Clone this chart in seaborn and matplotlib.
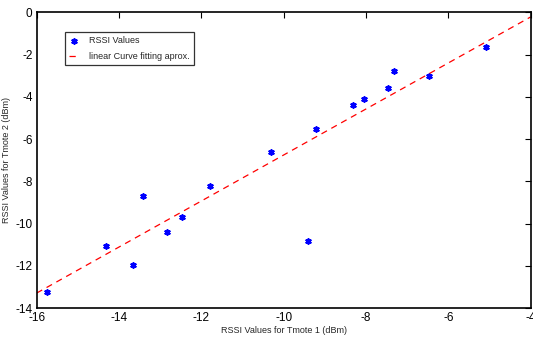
import matplotlib
matplotlib.use("Agg")
import matplotlib.pyplot as plt
import seaborn as sns
import pandas as pd
from matplotlib import font_manager

# RSSI readings (dBm) of the two Tmote nodes
tmote1_rssi = [-15.76, -14.31, -13.65, -13.43, -12.83, -12.48, -11.79, -10.32,
               -9.42, -9.22, -8.31, -8.04, -7.47, -7.31, -6.46, -5.09]
tmote2_rssi = [-13.23, -11.08, -11.98, -8.70, -10.39, -9.68, -8.21, -6.60,
               -10.83, -5.54, -4.38, -4.11, -3.59, -2.77, -3.02, -1.64]

# End points of the linear fit
fit_x = [-16.0, -4.0]
fit_y = [-13.29, -0.21]

x_ticks = [-16, -14, -12, -10, -8, -6, -4]
y_ticks = [0, -2, -4, -6, -8, -10, -12, -14]

sns.set_theme(style="white")
names = {f.name for f in font_manager.fontManager.ttflist}
family = [f for f in ["Liberation Sans Narrow", "Liberation Sans", "DejaVu Sans"] if f in names]
plt.rcParams["font.family"] = family
plt.rcParams["axes.unicode_minus"] = False

points = pd.DataFrame({"t1": tmote1_rssi, "t2": tmote2_rssi})
fit = pd.DataFrame({"t1": fit_x, "t2": fit_y})

fig = plt.figure(figsize=(5.33, 3.37), dpi=100)
ax = fig.add_axes([0.0689, 0.086, 0.9268, 0.877])

# asterisk markers for the measured pairs
sns.scatterplot(data=points, x="t1", y="t2", ax=ax, marker=(6, 2, 0), s=12,
                color="blue", linewidth=1.4, label="RSSI Values")
sns.lineplot(data=fit, x="t1", y="t2", ax=ax, color="red", linewidth=0.9,
             label="linear Curve fitting aprox.")
ax.lines[-1].set_linestyle((0, (5, 4)))

ax.set_xlim(-16, -4)
ax.set_ylim(-14, 0)
ax.set_xticks(x_ticks)
ax.set_yticks(y_ticks)
ax.tick_params(direction="in", length=4, width=0.8, top=True, right=True,
               labelsize=8.5, colors="black", pad=3)
for s in ax.spines.values():
    s.set_color("black")
    s.set_linewidth(1.2)

ax.set_xlabel("RSSI Values for Tmote 1 (dBm)", fontsize=6.5, labelpad=1)
ax.set_ylabel("RSSI Values for Tmote 2 (dBm)", fontsize=6.5, labelpad=3)

leg = ax.legend(loc="upper left", bbox_to_anchor=(0.057, 0.934), fontsize=6.5,
                frameon=True, fancybox=False, edgecolor="black",
                handlelength=1.0, handletextpad=1.2, borderpad=0.5,
                labelspacing=0.7, borderaxespad=0)
leg.get_frame().set_linewidth(0.9)

fig.savefig("out.png", dpi=100)
